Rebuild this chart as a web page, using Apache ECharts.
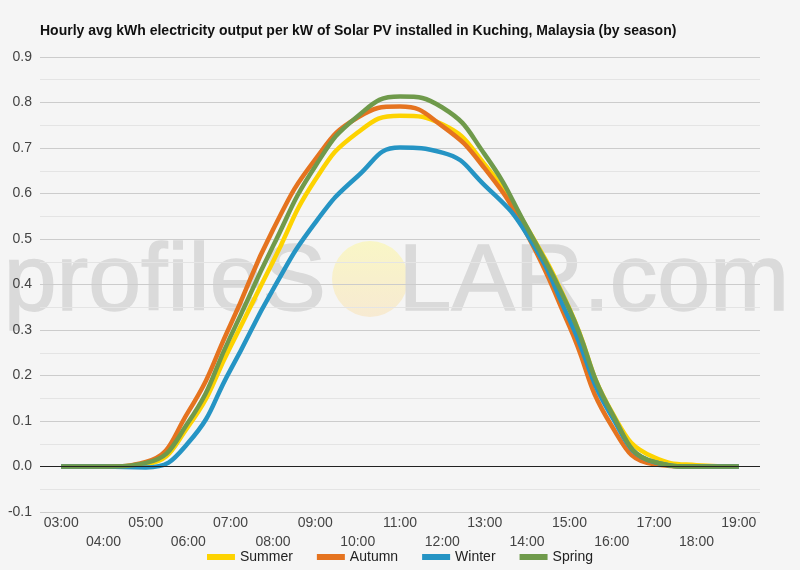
<!DOCTYPE html>
<html>
<head>
<meta charset="utf-8">
<title>Kuching solar PV output by season</title>
<script src="https://cdn.jsdelivr.net/npm/echarts@6/dist/echarts.min.js"></script>
<style>
  html, body { margin: 0; padding: 0; background: #f5f5f5; }
  #chart { width: 800px; height: 570px; }
</style>
</head>
<body>
<div id="chart"></div>
<script>
  // hours of the day (x axis)
  var hours = ['03:00', '04:00', '05:00', '06:00', '07:00', '08:00', '09:00', '10:00', '11:00',
    '12:00', '13:00', '14:00', '15:00', '16:00', '17:00', '18:00', '19:00']

  // avg kWh per kW
  var summer = [0, 0, 0.005, 0.088, 0.264, 0.45, 0.63, 0.734, 0.771, 0.752, 0.664, 0.525, 0.347, 0.12, 0.02, 0.003, 0]
  var autumn = [0, 0, 0.01, 0.12, 0.312, 0.52, 0.675, 0.767, 0.791, 0.748, 0.655, 0.51, 0.308, 0.089, 0.005, 0, 0]
  var winter = [0, 0, -0.002, 0.052, 0.213, 0.389, 0.536, 0.638, 0.701, 0.69, 0.618, 0.51, 0.323, 0.11, 0.01, 0, 0]
  var spring = [0, 0, 0.008, 0.097, 0.286, 0.484, 0.66, 0.77, 0.813, 0.789, 0.686, 0.525, 0.345, 0.118, 0.01, 0, 0]

  var seasonNames = ['Summer', 'Autumn', 'Winter', 'Spring']
  var seasonColors = ['#fdd300', '#e5731f', '#2594c4', '#6f9a4b']

  var myChart = echarts.init(document.getElementById('chart'))

  function makeLine(name, data, color) {
    return {
      name: name,
      type: 'line',
      data: data,
      smooth: 0.5,
      symbol: 'none',
      lineStyle: { width: 4.5, color: color },
      itemStyle: { color: color }
    }
  }

  var series = [
    makeLine(seasonNames[0], summer, seasonColors[0]),
    makeLine(seasonNames[1], autumn, seasonColors[1]),
    makeLine(seasonNames[2], winter, seasonColors[2]),
    makeLine(seasonNames[3], spring, seasonColors[3])
  ]
  // black zero line
  series[0].markLine = {
    silent: true,
    symbol: 'none',
    label: { show: false },
    lineStyle: { color: '#222', width: 1, type: 'solid' },
    data: [{ yAxis: 0 }]
  }

  var wmStyle = {
    fontSize: 95,
    fontFamily: 'Arial, "Liberation Sans"',
    fill: '#dadada',
    stroke: '#dadada',
    lineWidth: 1.5
  }

  var option = {
    backgroundColor: '#f5f5f5',
    animation: false,
    textStyle: { fontFamily: 'Arial, "Liberation Sans", sans-serif' },
    title: {
      text: 'Hourly avg kWh electricity output per kW of Solar PV installed in Kuching, Malaysia (by season)',
      left: 35,
      top: 19,
      textStyle: { fontSize: 14, fontWeight: 'bold', color: '#111' }
    },
    // profileSOLAR watermark, drawn under the grid lines
    graphic: [
      {
        type: 'text', left: 3, top: 236, silent: true, z: -1,
        style: Object.assign({ text: 'profileS' }, wmStyle)
      },
      {
        type: 'circle', silent: true, z: -1,
        shape: { cx: 370, cy: 279, r: 38 },
        style: {
          fill: new echarts.graphic.LinearGradient(0, 0, 0, 1, [
            { offset: 0, color: '#f9f6c6' },
            { offset: 1, color: '#f7ead2' }
          ])
        }
      },
      {
        type: 'text', right: 10, top: 236, silent: true, z: -1,
        style: Object.assign({ text: 'LAR.com' }, wmStyle)
      }
    ],
    legend: {
      bottom: 1,
      left: 'center',
      icon: 'rect',
      itemWidth: 28,
      itemHeight: 6,
      itemGap: 24,
      data: seasonNames,
      textStyle: { fontSize: 14, color: '#222' }
    },
    grid: {
      left: 40,
      right: 40,
      top: 57,
      bottom: 58,
      containLabel: false
    },
    xAxis: {
      type: 'category',
      data: hours,
      boundaryGap: true,
      axisLine: { show: false },
      axisTick: { show: false },
      axisLabel: {
        interval: 0,
        margin: 2,
        fontSize: 14,
        color: '#444',
        lineHeight: 19,
        formatter: function (v, i) {
          return i % 2 ? '\n' + v : v
        }
      }
    },
    yAxis: {
      type: 'value',
      min: -0.1,
      max: 0.9,
      interval: 0.1,
      axisLine: { show: false },
      axisTick: { show: false },
      axisLabel: {
        fontSize: 14,
        color: '#444',
        margin: 8,
        formatter: function (v) { return v.toFixed(1) }
      },
      splitLine: { lineStyle: { color: '#cccccc', width: 1 } },
      minorTick: { show: false, splitNumber: 2 },
      minorSplitLine: { show: true, lineStyle: { color: '#e4e4e4', width: 1 } }
    },
    series: series
  }

  myChart.setOption(option)
</script>
</body>
</html>
